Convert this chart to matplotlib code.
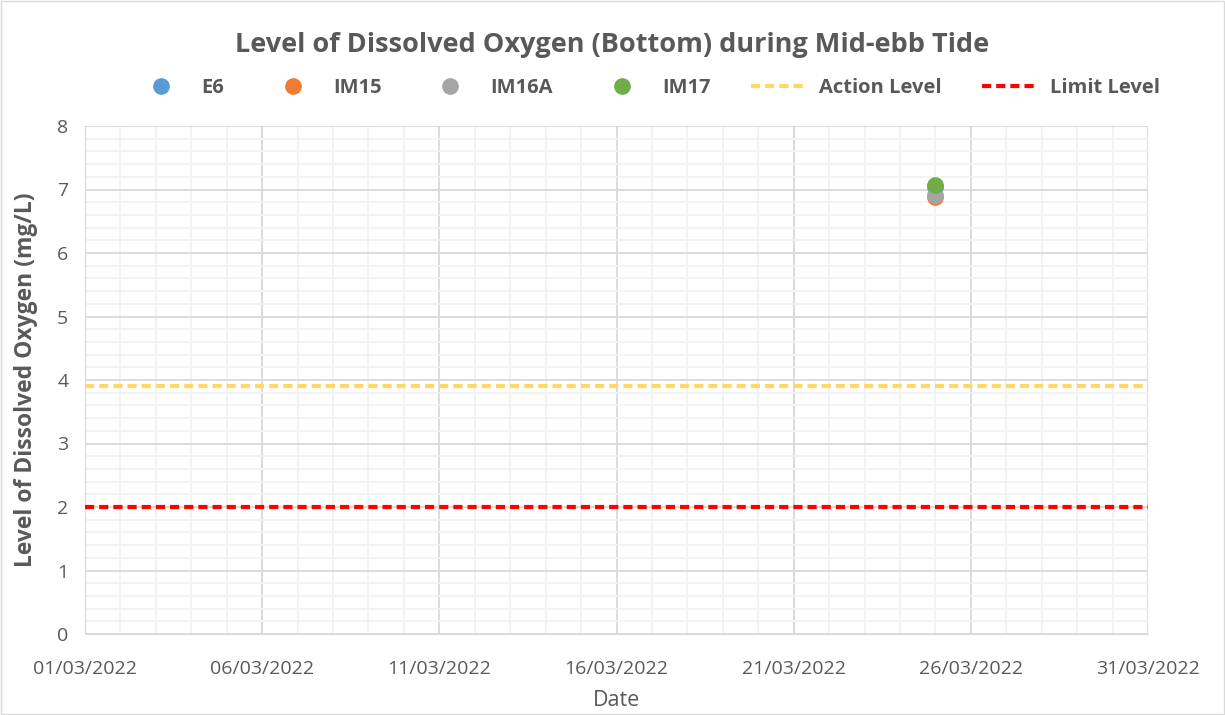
import matplotlib
matplotlib.use("Agg")
import matplotlib.pyplot as plt
import matplotlib.dates as mdates
from matplotlib.ticker import MultipleLocator
import datetime as dt

plt.rcParams['font.family'] = ['Open Sans', 'DejaVu Sans']

title = "Level of Dissolved Oxygen (Bottom) during Mid-ebb Tide"
stations = ["E6", "IM15", "IM16A", "IM17"]
colors = ["#5B9BD5", "#ED7D31", "#A5A5A5", "#70AD47"]
dates = ["25/03/2022"]
values = {
    "E6": [7.04],
    "IM15": [6.88],
    "IM16A": [6.92],
    "IM17": [7.07],
}
action_level = 3.9
limit_level = 2.0
x_start, x_end = "01/03/2022", "31/03/2022"

def parse(s):
    return dt.datetime.strptime(s, "%d/%m/%Y")

fig = plt.figure(figsize=(12.25, 7.15), dpi=100)
ax = fig.add_axes([85/1225, 1-634/715, (1148-85)/1225, (634-126)/715])

xs = [parse(d) for d in dates]
for st, c in zip(stations, colors):
    ax.plot(xs, values[st], 'o', color=c, markersize=11, label=st, zorder=5)

x0, x1 = parse(x_start), parse(x_end)
ax.plot([x0, x1], [action_level, action_level], linestyle=(0, (2.2, 1.2)), color="#FFD966",
        linewidth=3, label="Action Level", zorder=4)
ax.plot([x0, x1], [limit_level, limit_level], linestyle=(0, (2.2, 1.2)), color="#FF0000",
        linewidth=3, label="Limit Level", zorder=4)

ax.set_xlim(x0, x1)
ax.set_ylim(0, 8)
ax.xaxis.set_major_locator(mdates.DayLocator(bymonthday=[1, 6, 11, 16, 21, 26, 31]))
ax.xaxis.set_minor_locator(mdates.DayLocator())
ax.xaxis.set_major_formatter(mdates.DateFormatter("%d/%m/%Y"))
ax.yaxis.set_major_locator(MultipleLocator(1))
ax.yaxis.set_minor_locator(MultipleLocator(0.2))

ax.grid(which='major', color="#D9D9D9", linewidth=1.3)
ax.grid(which='minor', color="#F2F2F2", linewidth=1.3)
ax.set_axisbelow(True)
for side in ['top', 'right']:
    ax.spines[side].set_visible(False)
ax.spines['left'].set_color("#D9D9D9")
ax.spines['bottom'].set_color("#D9D9D9")
ax.tick_params(which='both', length=0, colors="#595959", labelsize=14)
ax.tick_params(axis='x', pad=19)
ax.tick_params(axis='y', pad=12)

ax.set_xlabel("Date", fontsize=15.5, color="#595959", labelpad=8)
ax.set_ylabel("Level of Dissolved Oxygen (mg/L)", fontsize=16.5, fontweight='bold',
              color="#595959", labelpad=14)

fig.text(0.5, 1-45/715, title, ha='center', va='center', fontsize=19.5, fontweight='bold',
         color="#595959")

handles, labels = ax.get_legend_handles_labels()
leg = fig.legend(handles, labels, loc='center', bbox_to_anchor=(0.528, 1-88/715), ncol=6,
                 frameon=False, fontsize=14.5, handlelength=2.8, columnspacing=2.0,
                 handletextpad=0.6)
for t in leg.get_texts():
    t.set_color("#595959")
    t.set_fontweight('bold')

fig.patches.append(plt.Rectangle((0.001, 0.001), 0.998, 0.998, transform=fig.transFigure,
                                 fill=False, edgecolor="#D9D9D9", linewidth=1))

fig.savefig("out.png", dpi=100)
